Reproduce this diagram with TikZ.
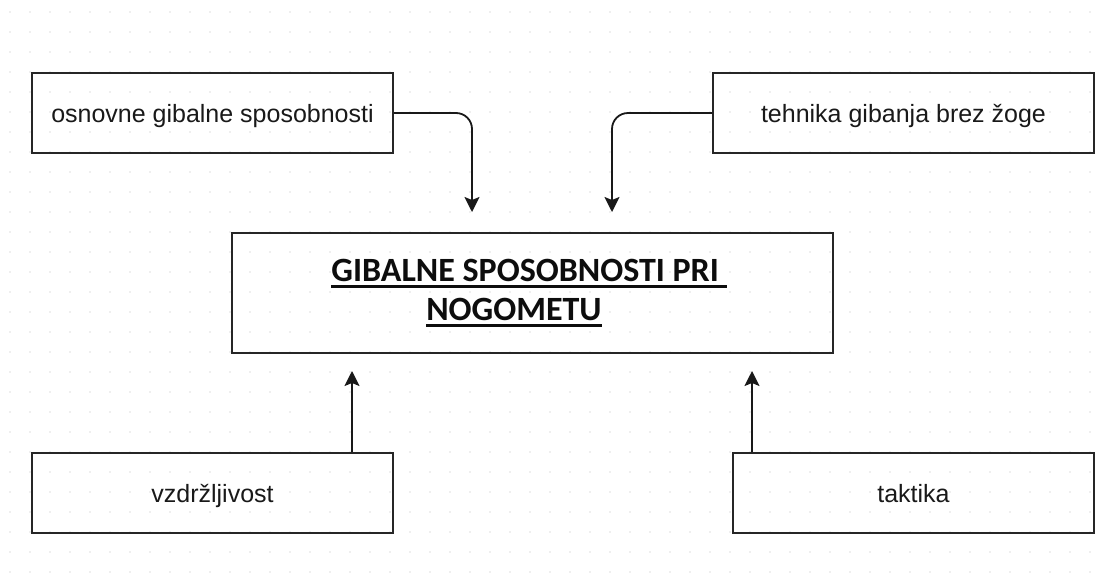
\documentclass[tikz,border=0pt]{standalone}
\usepackage{fontspec}
\setmainfont{Liberation Sans}
\newfontfamily\titlefont{Carlito}
\usetikzlibrary{arrows.meta}
\newcommand\myul[1]{\setbox0\hbox{#1}\rlap{\rule[-6pt]{\wd0}{3pt}}\box0}
\begin{document}
\begin{tikzpicture}[x=1pt,y=-1pt,
  box/.style={draw=black!85,line width=2pt,inner sep=0pt,anchor=north west},
  lbl/.style={font=\fontsize{25}{30}\selectfont,text=black!90,anchor=base},
  conn/.style={draw=black!90,line width=1.8pt,-{Stealth[length=15pt,width=15pt,inset=3pt]}}]
\useasboundingbox (0,0) rectangle (1103,576);
\fill[white] (0,0) rectangle (1103,576);
% faint grid dots
\foreach \i in {0,...,55}{\foreach \j in {0,...,28}{
  \fill[black!12] (10+20*\i,12+20*\j) circle (0.9);}}
% boxes
\node[box,minimum width=361pt,minimum height=80pt] (a) at (31,72) {};
\node[lbl] at ([yshift=-9pt]a.center) {osnovne gibalne sposobnosti};
\node[box,minimum width=381pt,minimum height=80pt] (b) at (712,72) {};
\node[lbl] at ([yshift=-9pt]b.center) {tehnika gibanja brez žoge};
\node[box,minimum width=601pt,minimum height=120pt] (m) at (231,232) {};
\node[box,minimum width=361pt,minimum height=80pt] (c) at (31,452) {};
\node[lbl] at ([yshift=-9pt]c.center) {vzdržljivost};
\node[box,minimum width=361pt,minimum height=80pt] (d) at (732,452) {};
\node[lbl] at ([yshift=-9pt]d.center) {taktika};
% title
\node[font=\titlefont\bfseries\fontsize{34}{39}\selectfont,align=center,text=black!95] (t) at (529,293)
  {\myul{GIBALNE SPOSOBNOSTI PRI\ }\\\myul{NOGOMETU}\hspace*{30pt}};
% connector end points
\coordinate (ta) at (472,212);
\coordinate (tb) at (612,212);
\coordinate (tc) at (352,371);
\coordinate (td) at (752,371);
\draw[conn,rounded corners=16pt] (a.east) -| (ta);
\draw[conn,rounded corners=16pt] (b.west) -| (tb);
\draw[conn] (c.north west) ++(321,0) coordinate (sc) (sc) -- (tc);
\draw[conn] (d.north west) ++(20,0) coordinate (sd) (sd) -- (td);
\end{tikzpicture}
\end{document}
